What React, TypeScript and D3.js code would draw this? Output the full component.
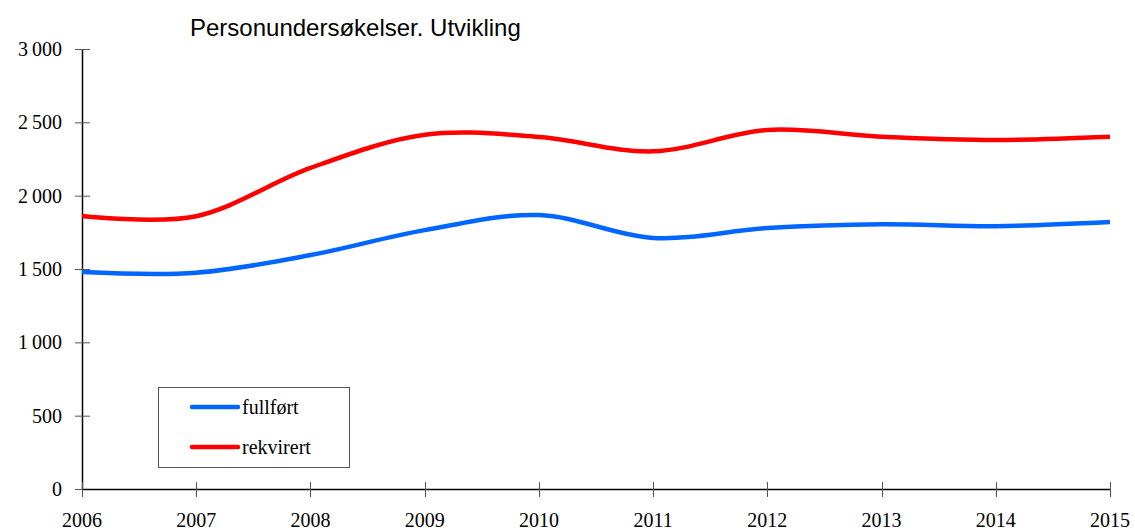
import React, { useRef, useEffect } from 'react';
import * as d3 from 'd3';

const years = [2006, 2007, 2008, 2009, 2010, 2011, 2012, 2013, 2014, 2015];
const fullfort = [1480, 1475, 1595, 1765, 1868, 1712, 1779, 1805, 1792, 1820];
const rekvirert = [1862, 1860, 2189, 2415, 2400, 2302, 2448, 2402, 2380, 2402];
const yTicks = [0, 500, 1000, 1500, 2000, 2500, 3000];

const series = [
    { name: 'fullført', values: fullfort, color: '#0066ff' },
    { name: 'rekvirert', values: rekvirert, color: '#ff0000' },
];

const W = 1135;
const H = 530;

const App: React.FC = () => {
    const svgRef = useRef<SVGSVGElement>(null);

    useEffect(() => {
        const svg = d3.select(svgRef.current);
        svg.selectAll('*').remove();

        const x = d3.scaleLinear().domain([2006, 2015]).range([82, 1110]);
        const y = d3.scaleLinear().domain([0, 3000]).range([489, 49]);

        const serif = '"Liberation Serif", "Times New Roman", serif';
        const fmt = (v: number) => (v >= 1000 ? d3.format(',')(v).replace(/,/g, '\u2009') : `${v}`);

        // Y axis
        const yAxis = svg.append('g');
        yAxis.append('line')
            .attr('x1', 82.5).attr('x2', 82.5)
            .attr('y1', y(3000)).attr('y2', y(0))
            .attr('stroke', '#000').attr('stroke-width', 1.5);
        yTicks.forEach(t => {
            yAxis.append('line')
                .attr('x1', 75).attr('x2', 90)
                .attr('y1', y(t) + 0.5).attr('y2', y(t) + 0.5)
                .attr('stroke', '#555').attr('stroke-width', 1);
            yAxis.append('text')
                .attr('x', 62).attr('y', y(t) + 7)
                .attr('text-anchor', 'end')
                .style('font-family', serif).style('font-size', '20px')
                .text(fmt(t));
        });

        // X axis
        const xAxis = svg.append('g');
        xAxis.append('line')
            .attr('x1', x(2006)).attr('x2', x(2015))
            .attr('y1', 489.5).attr('y2', 489.5)
            .attr('stroke', '#000').attr('stroke-width', 1.5);
        years.forEach(yr => {
            xAxis.append('line')
                .attr('x1', Math.round(x(yr)) + 0.5).attr('x2', Math.round(x(yr)) + 0.5)
                .attr('y1', 482).attr('y2', 497)
                .attr('stroke', '#555').attr('stroke-width', 1);
            xAxis.append('text')
                .attr('x', x(yr)).attr('y', 527)
                .attr('text-anchor', 'middle')
                .style('font-family', serif).style('font-size', '20px')
                .text(yr);
        });

        // Lines
        const line = d3.line<number>()
            .x((_, i) => x(years[i]))
            .y(d => y(d))
            .curve(d3.curveCardinal.tension(0));

        series.forEach(s => {
            svg.append('path')
                .datum(s.values)
                .attr('fill', 'none')
                .attr('stroke', s.color)
                .attr('stroke-width', 4.5)
                .attr('d', line);
        });

        // Title
        svg.append('text')
            .attr('x', 190).attr('y', 36)
            .style('font-family', '"Liberation Sans", Arial, sans-serif')
            .style('font-size', '24px')
            .text('Personundersøkelser. Utvikling');

        // Legend
        const legend = svg.append('g');
        legend.append('rect')
            .attr('x', 158.5).attr('y', 387.5)
            .attr('width', 191).attr('height', 80)
            .attr('fill', '#fff').attr('stroke', '#555').attr('stroke-width', 1);
        series.forEach((s, i) => {
            const ly = 407 + i * 40;
            legend.append('line')
                .attr('x1', 192).attr('x2', 238)
                .attr('y1', ly).attr('y2', ly)
                .attr('stroke', s.color).attr('stroke-width', 4.5)
                .attr('stroke-linecap', 'round');
            legend.append('text')
                .attr('x', 242).attr('y', ly + 7)
                .style('font-family', serif).style('font-size', '20px')
                .text(s.name);
        });
    }, []);

    return (
        <svg
            ref={svgRef}
            width={W}
            height={H}
            style={{ position: 'absolute', left: 0, top: 0, background: '#fff' }}
        />
    );
};

export default App;
